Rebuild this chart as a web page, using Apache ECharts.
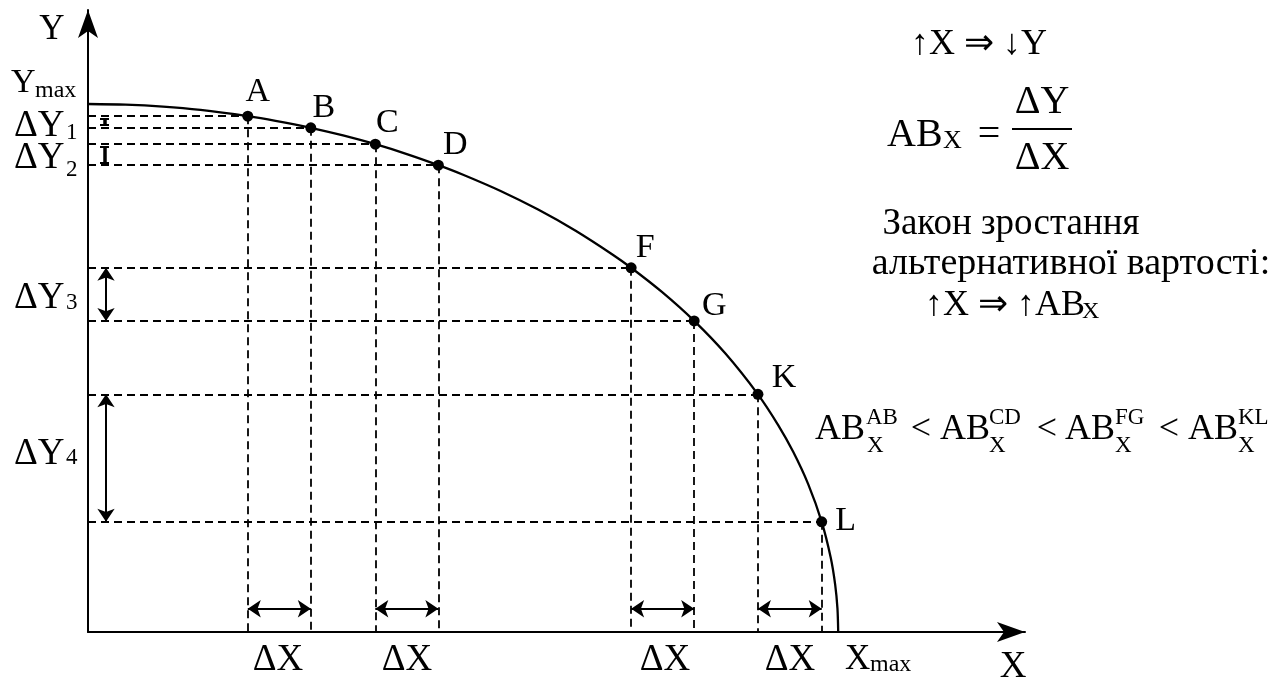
<!DOCTYPE html>
<html>
<head>
<meta charset="utf-8">
<script src="https://cdn.jsdelivr.net/npm/echarts@6/dist/echarts.min.js"></script>
<style>
    html, body {margin: 0; padding: 0; background: #fff;}
    #chart {width: 1283px; height: 681px;}
</style>
</head>
<body>
<div id="chart"></div>
<script>
//точки на кривій виробничих можливостей
var pointNames = ['A', 'B', 'C', 'D', 'F', 'G', 'K', 'L'];
var pointX = [2.13, 2.97, 3.83, 4.67, 7.24, 8.08, 8.93, 9.78];
var pointY = [9.770, 9.549, 9.238, 8.842, 6.898, 5.892, 4.501, 2.086];

//сама крива (Ymax = 10, Xmax = 10)
var curveX = [0, 0.5, 1.0, 1.5, 2.13, 2.5, 2.97, 3.4, 3.83, 4.25, 4.67, 5.0, 5.5, 6.0, 6.5, 7.0, 7.24,
    7.65, 8.08, 8.5, 8.93, 9.2, 9.4, 9.6, 9.78, 9.9, 9.96, 9.99, 10];
var curveY = [10, 9.987, 9.950, 9.887, 9.770, 9.682, 9.549, 9.404, 9.238, 9.052, 8.842, 8.660, 8.352, 8.0, 7.599, 7.141, 6.898,
    6.440, 5.892, 5.268, 4.501, 3.919, 3.412, 2.800, 2.086, 1.411, 0.894, 0.447, 0];

//пари точок для ΔX і ΔY
var dxPairs = [[0, 1], [2, 3], [4, 5], [6, 7]];
var dyArrowPairs = [[4, 5], [6, 7]];
var dyTinyPairs = [[0, 1], [2, 3]];

var font = '"Liberation Serif", "Times New Roman", serif';
var arrowAtY = 0.44;   //висота стрілок ΔX
var arrowAtX = 0.24;   //положення стрілок ΔY
var labelOffsets = [[10, -24], [13, -20], [12, -21], [17, -20], [14, -20], [20, -15], [26, -16], [24, -1]];

var curveData = curveX.map(function (x, i) { return [x, curveY[i]]; });

var dashData = [];
pointX.forEach(function (x, i) {
    dashData.push({coords: [[0, pointY[i]], [x, pointY[i]]]});
    dashData.push({coords: [[x, pointY[i]], [x, 0]]});
});

var arrowData = [];
dxPairs.forEach(function (p) {
    arrowData.push({coords: [[pointX[p[0]], arrowAtY], [pointX[p[1]], arrowAtY]]});
});
dyArrowPairs.forEach(function (p) {
    arrowData.push({coords: [[arrowAtX, pointY[p[0]]], [arrowAtX, pointY[p[1]]]]});
});

var tinyData = [];
var capData = [];
dyTinyPairs.forEach(function (p) {
    var y1 = pointY[p[0]] - 0.05, y2 = pointY[p[1]] + 0.05;
    tinyData.push({coords: [[arrowAtX - 0.02, y1], [arrowAtX - 0.02, y2]]});
    capData.push({coords: [[arrowAtX - 0.08, y1], [arrowAtX + 0.04, y1]]});
    capData.push({coords: [[arrowAtX - 0.08, y2], [arrowAtX + 0.04, y2]]});
});

var scatterData = pointX.map(function (x, i) {
    return {
        name: pointNames[i],
        value: [x, pointY[i]],
        label: {offset: labelOffsets[i]}
    };
});

function txt(x, y, s, size, align) {
    return {
        type: 'text',
        style: {
            x: x, y: y, text: s,
            font: size + 'px ' + font,
            fill: '#000',
            align: align || 'left',
            verticalAlign: 'middle'
        }
    };
}

var myChart = echarts.init(document.getElementById('chart'));
var myOption = {
    animation: false,
    backgroundColor: '#fff',
    grid: {left: 88, top: 10, right: 258, bottom: 49},
    xAxis: {
        type: 'value', min: 0, max: 12.49,
        axisLine: {show: true, symbol: ['none', 'arrow'], symbolSize: [15, 28], lineStyle: {color: '#000', width: 2}},
        axisTick: {show: false}, axisLabel: {show: false}, splitLine: {show: false}
    },
    yAxis: {
        type: 'value', min: 0, max: 11.78,
        axisLine: {show: true, symbol: ['none', 'arrow'], symbolSize: [15, 28], lineStyle: {color: '#000', width: 2}},
        axisTick: {show: false}, axisLabel: {show: false}, splitLine: {show: false}
    },
    series: [
        {
            type: 'lines', coordinateSystem: 'cartesian2d', silent: true, z: 2,
            lineStyle: {color: '#000', width: 1.8, type: [8, 5], opacity: 1},
            data: dashData
        },
        {
            type: 'line', data: curveData, smooth: 0.3, showSymbol: false, z: 3,
            lineStyle: {color: '#000', width: 2.3}
        },
        {
            type: 'lines', coordinateSystem: 'cartesian2d', silent: true, z: 3,
            symbol: ['arrow', 'arrow'], symbolSize: 13,
            lineStyle: {color: '#000', width: 2, opacity: 1},
            data: arrowData
        },
        {
            type: 'lines', coordinateSystem: 'cartesian2d', silent: true, z: 3,
            lineStyle: {color: '#000', width: 3.5, opacity: 1},
            data: tinyData
        },
        {
            type: 'lines', coordinateSystem: 'cartesian2d', silent: true, z: 3,
            lineStyle: {color: '#000', width: 2, opacity: 1},
            data: capData
        },
        {
            type: 'scatter', data: scatterData, symbolSize: 11, z: 5,
            itemStyle: {color: '#000', opacity: 1},
            label: {
                show: true, position: 'inside', formatter: '{b}',
                color: '#000', opacity: 1, fontSize: 34, fontFamily: font
            }
        }
    ],
    graphic: [
        txt(52, 30, 'Y', 35, 'center'),
        txt(11, 83, 'Y', 34),
        txt(35, 91, 'max', 24),
        txt(14, 126, 'ΔY', 37),
        txt(66, 133, '1', 23),
        txt(14, 158, 'ΔY', 37),
        txt(66, 170, '2', 23),
        txt(14, 298, 'ΔY', 37),
        txt(66, 303, '3', 23),
        txt(14, 454, 'ΔY', 37),
        txt(66, 458, '4', 23),
        txt(278, 660, 'ΔX', 37, 'center'),
        txt(407, 660, 'ΔX', 37, 'center'),
        txt(665, 660, 'ΔX', 37, 'center'),
        txt(790, 660, 'ΔX', 37, 'center'),
        txt(845, 660, 'X', 35),
        txt(870, 665, 'max', 24),
        txt(1013, 667, 'X', 37, 'center'),

        txt(979, 45, '↑X ⇒ ↓Y', 36, 'center'),
        txt(887, 135, 'AB', 40),
        txt(943, 141, 'X', 26),
        txt(989, 135, '=', 40, 'center'),
        txt(1042, 102, 'ΔY', 40, 'center'),
        txt(1042, 158, 'ΔX', 40, 'center'),
        {type: 'line', shape: {x1: 1012, y1: 129, x2: 1072, y2: 129}, style: {stroke: '#000', lineWidth: 2}},

        txt(1011, 224, 'Закон зростання', 37, 'center'),
        txt(1071, 264, 'альтернативної вартості:', 38, 'center'),
        txt(925, 306, '↑X ⇒ ↑AB', 36),
        txt(1082, 312, 'X', 24),

        txt(815, 430, 'AB', 36), txt(866, 418, 'AB', 23), txt(867, 446, 'X', 23),
        txt(921, 430, '<', 36, 'center'),
        txt(940, 430, 'AB', 36), txt(989, 418, 'CD', 23), txt(989, 446, 'X', 23),
        txt(1047, 430, '<', 36, 'center'),
        txt(1065, 430, 'AB', 36), txt(1115, 418, 'FG', 23), txt(1115, 446, 'X', 23),
        txt(1169, 430, '<', 36, 'center'),
        txt(1188, 430, 'AB', 36), txt(1238, 418, 'KL', 23), txt(1238, 446, 'X', 23)
    ]
};
myChart.setOption(myOption);

window.onresize = function () {
    myChart.resize();
};
</script>
</body>
</html>
